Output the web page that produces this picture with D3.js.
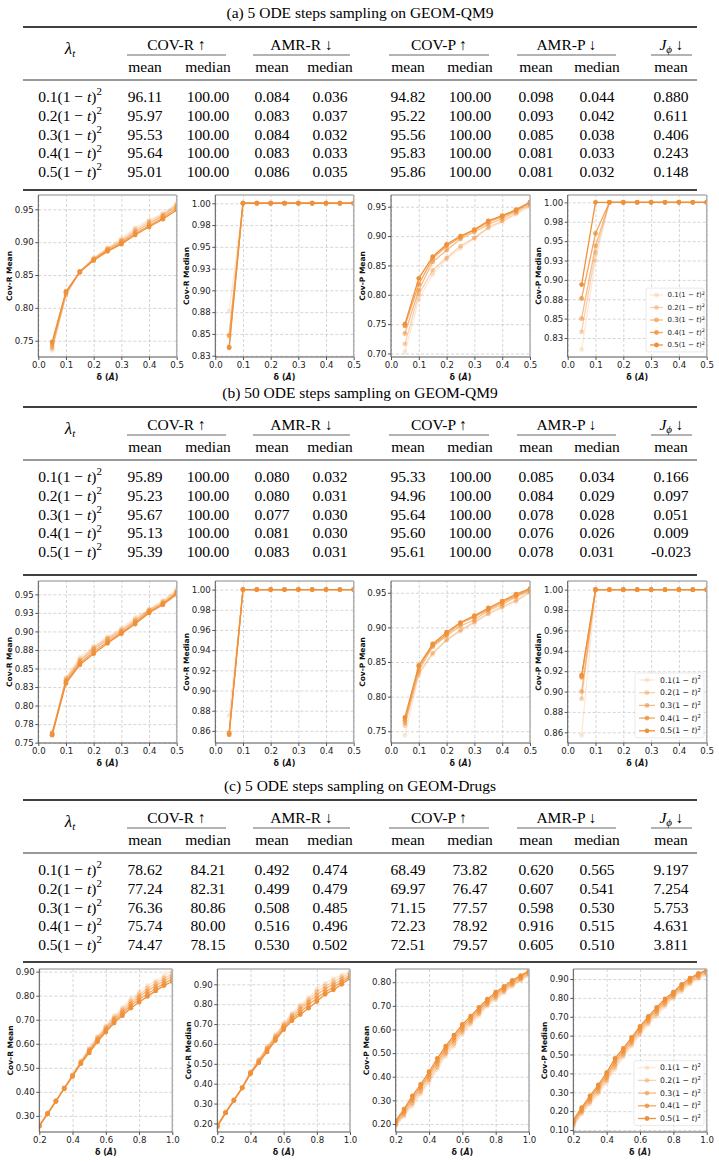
<!DOCTYPE html>
<html>
<head>
<meta charset="utf-8">
<script src="https://cdn.jsdelivr.net/npm/d3@7"></script>
<style>
  body { margin: 0; background: #fff; }
  svg { display: block; }
</style>
</head>
<body>
<svg id="fig"></svg>
<script>
// ---------- table data ----------
const sectionTitles = [
    "(a) 5 ODE steps sampling on GEOM-QM9",
    "(b) 50 ODE steps sampling on GEOM-QM9",
    "(c) 5 ODE steps sampling on GEOM-Drugs"
];
const lambdaCoefs = ["0.1", "0.2", "0.3", "0.4", "0.5"];
const metricGroups = ["COV-R ↑", "AMR-R ↓", "COV-P ↑", "AMR-P ↓"];
const subHeaders = ["mean", "median", "mean", "median", "mean", "median", "mean", "median", "mean"];

const tableA = [
    ["96.11", "100.00", "0.084", "0.036", "94.82", "100.00", "0.098", "0.044", "0.880"],
    ["95.97", "100.00", "0.083", "0.037", "95.22", "100.00", "0.093", "0.042", "0.611"],
    ["95.53", "100.00", "0.084", "0.032", "95.56", "100.00", "0.085", "0.038", "0.406"],
    ["95.64", "100.00", "0.083", "0.033", "95.83", "100.00", "0.081", "0.033", "0.243"],
    ["95.01", "100.00", "0.086", "0.035", "95.86", "100.00", "0.081", "0.032", "0.148"]
];
const tableB = [
    ["95.89", "100.00", "0.080", "0.032", "95.33", "100.00", "0.085", "0.034", "0.166"],
    ["95.23", "100.00", "0.080", "0.031", "94.96", "100.00", "0.084", "0.029", "0.097"],
    ["95.67", "100.00", "0.077", "0.030", "95.64", "100.00", "0.078", "0.028", "0.051"],
    ["95.13", "100.00", "0.081", "0.030", "95.60", "100.00", "0.076", "0.026", "0.009"],
    ["95.39", "100.00", "0.083", "0.031", "95.61", "100.00", "0.078", "0.031", "-0.023"]
];
const tableC = [
    ["78.62", "84.21", "0.492", "0.474", "68.49", "73.82", "0.620", "0.565", "9.197"],
    ["77.24", "82.31", "0.499", "0.479", "69.97", "76.47", "0.607", "0.541", "7.254"],
    ["76.36", "80.86", "0.508", "0.485", "71.15", "77.57", "0.598", "0.530", "5.753"],
    ["75.74", "80.00", "0.516", "0.496", "72.23", "78.92", "0.916", "0.515", "4.631"],
    ["74.47", "78.15", "0.530", "0.502", "72.51", "79.57", "0.605", "0.510", "3.811"]
];

// ---------- plot data ----------
const panelNames = ["Cov-R Mean", "Cov-R Median", "Cov-P Mean", "Cov-P Median"];

const xQM9 = [0.05, 0.10, 0.15, 0.20, 0.25, 0.30, 0.35, 0.40, 0.45, 0.50];
const xDrugs = [0.20, 0.25, 0.30, 0.35, 0.40, 0.45, 0.50, 0.55, 0.60, 0.65, 0.70, 0.75, 0.80, 0.85, 0.90, 0.95, 1.00];
const xTicksQM9 = [0.0, 0.1, 0.2, 0.3, 0.4, 0.5];
const xTickLabelsQM9 = ["0.0", "0.1", "0.2", "0.3", "0.4", "0.5"];
const xTicksDrugs = [0.2, 0.4, 0.6, 0.8, 1.0];
const xTickLabelsDrugs = ["0.2", "0.4", "0.6", "0.8", "1.0"];

// (a) 5 steps QM9 — one array per lambda (0.1 ... 0.5)
const a_covRMean = [
    [0.735, 0.818, 0.856, 0.876, 0.892, 0.906, 0.922, 0.934, 0.944, 0.959],
    [0.738, 0.820, 0.855, 0.875, 0.890, 0.903, 0.919, 0.931, 0.942, 0.957],
    [0.741, 0.822, 0.855, 0.874, 0.889, 0.901, 0.916, 0.928, 0.940, 0.955],
    [0.745, 0.824, 0.854, 0.873, 0.887, 0.899, 0.913, 0.925, 0.937, 0.952],
    [0.748, 0.825, 0.855, 0.872, 0.886, 0.897, 0.911, 0.923, 0.935, 0.949]
];
const a_covRMedian = [
    [0.876, 1, 1, 1, 1, 1, 1, 1, 1, 1],
    [0.848, 1, 1, 1, 1, 1, 1, 1, 1, 1],
    [0.848, 1, 1, 1, 1, 1, 1, 1, 1, 1],
    [0.835, 1, 1, 1, 1, 1, 1, 1, 1, 1],
    [0.834, 1, 1, 1, 1, 1, 1, 1, 1, 1]
];
const a_covPMean = [
    [0.703, 0.792, 0.835, 0.861, 0.879, 0.896, 0.913, 0.924, 0.937, 0.950],
    [0.716, 0.801, 0.842, 0.863, 0.883, 0.897, 0.915, 0.926, 0.939, 0.953],
    [0.734, 0.808, 0.856, 0.876, 0.895, 0.907, 0.920, 0.930, 0.942, 0.955],
    [0.747, 0.818, 0.862, 0.883, 0.898, 0.910, 0.924, 0.933, 0.944, 0.957],
    [0.750, 0.828, 0.865, 0.886, 0.900, 0.911, 0.926, 0.935, 0.945, 0.958]
];
const a_covPMedian = [
    [0.810, 0.925, 1, 1, 1, 1, 1, 1, 1, 1],
    [0.833, 0.935, 1, 1, 1, 1, 1, 1, 1, 1],
    [0.850, 0.944, 1, 1, 1, 1, 1, 1, 1, 1],
    [0.876, 0.960, 1, 1, 1, 1, 1, 1, 1, 1],
    [0.894, 1, 1, 1, 1, 1, 1, 1, 1, 1]
];

// (b) 50 steps QM9
const b_covRMean = [
    [0.760, 0.838, 0.865, 0.880, 0.893, 0.904, 0.919, 0.930, 0.942, 0.957],
    [0.761, 0.836, 0.862, 0.878, 0.891, 0.902, 0.916, 0.929, 0.940, 0.955],
    [0.762, 0.834, 0.860, 0.876, 0.889, 0.900, 0.914, 0.928, 0.938, 0.953],
    [0.763, 0.832, 0.857, 0.873, 0.886, 0.898, 0.912, 0.926, 0.937, 0.952],
    [0.760, 0.830, 0.855, 0.870, 0.884, 0.897, 0.910, 0.925, 0.936, 0.950]
];
const b_covRMedian = [
    [0.875, 1, 1, 1, 1, 1, 1, 1, 1, 1],
    [0.858, 1, 1, 1, 1, 1, 1, 1, 1, 1],
    [0.858, 1, 1, 1, 1, 1, 1, 1, 1, 1],
    [0.856, 1, 1, 1, 1, 1, 1, 1, 1, 1],
    [0.857, 1, 1, 1, 1, 1, 1, 1, 1, 1]
];
const b_covPMean = [
    [0.744, 0.831, 0.861, 0.881, 0.894, 0.906, 0.919, 0.928, 0.937, 0.950],
    [0.758, 0.834, 0.863, 0.882, 0.896, 0.908, 0.920, 0.930, 0.939, 0.951],
    [0.762, 0.838, 0.872, 0.888, 0.902, 0.911, 0.924, 0.933, 0.944, 0.953],
    [0.766, 0.843, 0.874, 0.890, 0.906, 0.915, 0.926, 0.936, 0.946, 0.955],
    [0.770, 0.845, 0.876, 0.893, 0.907, 0.917, 0.928, 0.938, 0.948, 0.956]
];
const b_covPMedian = [
    [0.857, 1, 1, 1, 1, 1, 1, 1, 1, 1],
    [0.893, 1, 1, 1, 1, 1, 1, 1, 1, 1],
    [0.900, 1, 1, 1, 1, 1, 1, 1, 1, 1],
    [0.914, 1, 1, 1, 1, 1, 1, 1, 1, 1],
    [0.916, 1, 1, 1, 1, 1, 1, 1, 1, 1]
];

// (c) 5 steps Drugs
const c_covRMean = [
    [0.262, 0.312, 0.364, 0.417, 0.472, 0.530, 0.583, 0.631, 0.675, 0.717, 0.751, 0.787, 0.815, 0.842, 0.861, 0.883, 0.903],
    [0.260, 0.311, 0.363, 0.416, 0.470, 0.526, 0.577, 0.625, 0.668, 0.709, 0.742, 0.776, 0.804, 0.830, 0.851, 0.872, 0.891],
    [0.259, 0.310, 0.362, 0.415, 0.468, 0.523, 0.572, 0.620, 0.662, 0.702, 0.734, 0.767, 0.795, 0.820, 0.841, 0.862, 0.881],
    [0.258, 0.309, 0.361, 0.414, 0.466, 0.520, 0.567, 0.614, 0.655, 0.694, 0.726, 0.758, 0.784, 0.808, 0.830, 0.851, 0.870],
    [0.257, 0.308, 0.360, 0.413, 0.464, 0.517, 0.562, 0.608, 0.649, 0.686, 0.717, 0.748, 0.773, 0.797, 0.820, 0.842, 0.859]
];
const c_covRMedian = [
    [0.192, 0.258, 0.320, 0.382, 0.460, 0.522, 0.588, 0.647, 0.705, 0.755, 0.797, 0.833, 0.877, 0.905, 0.927, 0.947, 0.967],
    [0.190, 0.256, 0.318, 0.381, 0.457, 0.518, 0.581, 0.640, 0.697, 0.745, 0.786, 0.822, 0.862, 0.890, 0.913, 0.935, 0.957],
    [0.188, 0.255, 0.317, 0.380, 0.455, 0.514, 0.575, 0.632, 0.689, 0.736, 0.775, 0.810, 0.847, 0.877, 0.900, 0.923, 0.947],
    [0.186, 0.254, 0.316, 0.379, 0.452, 0.509, 0.567, 0.625, 0.680, 0.727, 0.760, 0.797, 0.830, 0.862, 0.886, 0.912, 0.938],
    [0.184, 0.253, 0.315, 0.378, 0.450, 0.505, 0.560, 0.617, 0.672, 0.717, 0.748, 0.780, 0.813, 0.850, 0.872, 0.900, 0.930]
];
const c_covPMean = [
    [0.189, 0.231, 0.277, 0.326, 0.375, 0.431, 0.487, 0.529, 0.581, 0.621, 0.658, 0.698, 0.726, 0.754, 0.782, 0.806, 0.828],
    [0.195, 0.239, 0.287, 0.336, 0.386, 0.442, 0.497, 0.541, 0.590, 0.629, 0.667, 0.705, 0.734, 0.761, 0.788, 0.811, 0.833],
    [0.201, 0.247, 0.298, 0.347, 0.398, 0.454, 0.507, 0.553, 0.600, 0.638, 0.675, 0.712, 0.742, 0.768, 0.795, 0.816, 0.838],
    [0.208, 0.255, 0.308, 0.357, 0.410, 0.466, 0.518, 0.564, 0.611, 0.647, 0.684, 0.720, 0.750, 0.775, 0.801, 0.822, 0.843],
    [0.214, 0.263, 0.319, 0.368, 0.421, 0.478, 0.529, 0.576, 0.621, 0.656, 0.693, 0.728, 0.758, 0.782, 0.808, 0.828, 0.848]
];
const c_covPMedian = [
    [0.114, 0.184, 0.237, 0.290, 0.351, 0.421, 0.486, 0.544, 0.605, 0.658, 0.702, 0.754, 0.798, 0.833, 0.872, 0.900, 0.921],
    [0.124, 0.192, 0.248, 0.302, 0.364, 0.435, 0.497, 0.556, 0.616, 0.669, 0.714, 0.764, 0.806, 0.843, 0.880, 0.908, 0.928],
    [0.133, 0.201, 0.259, 0.314, 0.377, 0.450, 0.509, 0.567, 0.627, 0.680, 0.726, 0.775, 0.814, 0.852, 0.888, 0.916, 0.934],
    [0.143, 0.210, 0.270, 0.327, 0.390, 0.464, 0.520, 0.579, 0.638, 0.691, 0.737, 0.785, 0.822, 0.862, 0.896, 0.923, 0.941],
    [0.153, 0.219, 0.281, 0.339, 0.404, 0.479, 0.532, 0.591, 0.649, 0.702, 0.749, 0.795, 0.830, 0.872, 0.904, 0.930, 0.947]
];

// y limits and ticks per panel
const yLims = [
    [[0.7252, 0.9718], [0.8235, 1.0095], [0.694, 0.970], [0.8005, 1.0095]],
    [[0.7495, 0.968], [0.848, 1.0085], [0.733, 0.967], [0.8495, 1.0085]],
    [[0.233, 0.911], [0.157, 0.977], [0.166, 0.856], [0.0895, 0.953]]
];
const yTicks = [
    [[0.75, 0.80, 0.85, 0.90, 0.95],
     [0.825, 0.85, 0.875, 0.90, 0.925, 0.95, 0.975, 1.0],
     [0.70, 0.75, 0.80, 0.85, 0.90, 0.95],
     [0.825, 0.85, 0.875, 0.90, 0.925, 0.95, 0.975, 1.0]],
    [[0.75, 0.775, 0.80, 0.825, 0.85, 0.875, 0.90, 0.925, 0.95],
     [0.86, 0.88, 0.90, 0.92, 0.94, 0.96, 0.98, 1.0],
     [0.75, 0.80, 0.85, 0.90, 0.95],
     [0.86, 0.88, 0.90, 0.92, 0.94, 0.96, 0.98, 1.0]],
    [[0.3, 0.4, 0.5, 0.6, 0.7, 0.8, 0.9],
     [0.2, 0.3, 0.4, 0.5, 0.6, 0.7, 0.8, 0.9],
     [0.2, 0.3, 0.4, 0.5, 0.6, 0.7, 0.8],
     [0.1, 0.2, 0.3, 0.4, 0.5, 0.6, 0.7, 0.8, 0.9]]
];
const yTickLabels = [
    [["0.75", "0.80", "0.85", "0.90", "0.95"],
     ["0.83", "0.85", "0.88", "0.90", "0.93", "0.95", "0.98", "1.00"],
     ["0.70", "0.75", "0.80", "0.85", "0.90", "0.95"],
     ["0.83", "0.85", "0.88", "0.90", "0.93", "0.95", "0.98", "1.00"]],
    [["0.75", "0.78", "0.80", "0.83", "0.85", "0.88", "0.90", "0.93", "0.95"],
     ["0.86", "0.88", "0.90", "0.92", "0.94", "0.96", "0.98", "1.00"],
     ["0.75", "0.80", "0.85", "0.90", "0.95"],
     ["0.86", "0.88", "0.90", "0.92", "0.94", "0.96", "0.98", "1.00"]],
    [["0.30", "0.40", "0.50", "0.60", "0.70", "0.80", "0.90"],
     ["0.20", "0.30", "0.40", "0.50", "0.60", "0.70", "0.80", "0.90"],
     ["0.20", "0.30", "0.40", "0.50", "0.60", "0.70", "0.80"],
     ["0.10", "0.20", "0.30", "0.40", "0.50", "0.60", "0.70", "0.80", "0.90"]]
];

// ---------- layout ----------
const W = 719, H = 1162;
const serif = "'Liberation Serif', 'DejaVu Serif', serif";
const sans = "'DejaVu Sans', sans-serif";
const orange = "#f0913a";
const alphas = [0.2, 0.4, 0.6, 0.8, 1.0];
const tableFont = 15.5;

const sectionTops = [0, 380, 773];
const bottomRules = [190, 195, 189];
const colX = [145, 208, 272, 330, 408, 470, 536, 597, 671];
const groupSpans = [[127, 226], [253, 350], [389, 489], [517, 616], [651, 692]];

const boxesQM9 = [[38.3, 176.7], [215.3, 353.7], [391, 530], [567.7, 706.7]];
const boxesDrugs = [[39.3, 172.3], [217.3, 350], [395.7, 529], [573.3, 706.7]];
const rowLayouts = [
    { top: 195, bottom: 357, boxes: boxesQM9, legend: { h0: 650, h1: 663, tx: 667.5, y0: 295, dy: 12.5, fs: 7 } },
    { top: 581, bottom: 743, boxes: boxesQM9, legend: { h0: 639, h1: 655, tx: 660, y0: 680, dy: 12.7, fs: 7.7 } },
    { top: 969, bottom: 1132, boxes: boxesDrugs, legend: { h0: 638, h1: 656, tx: 660, y0: 1067.7, dy: 12.7, fs: 7.7 } }
];

const svg = d3.select("#fig").attr("width", W).attr("height", H);

function lambdaText(sel, coef, fs) {
    sel.append("tspan").text(coef + "(1 − ");
    sel.append("tspan").attr("font-style", "italic").text("t");
    sel.append("tspan").text(")");
    sel.append("tspan").attr("font-size", fs * 0.7).attr("dy", -fs * 0.42).text("2");
}

// ---------- tables ----------
function drawTable(k, rows) {
    const y0 = sectionTops[k];
    const g = svg.append("g").attr("font-family", serif).attr("font-size", tableFont).attr("fill", "#000");

    g.append("text").attr("x", 360).attr("y", y0 + 18).attr("text-anchor", "middle").text(sectionTitles[k]);

    const rule = (y, w, x0 = 23, x1 = 697) =>
        g.append("line").attr("x1", x0).attr("x2", x1).attr("y1", y).attr("y2", y)
            .attr("stroke", "#000").attr("stroke-width", w);

    rule(y0 + 27, 1.3);

    // lambda header
    const lt = g.append("text").attr("x", 70).attr("y", y0 + 54).attr("text-anchor", "middle");
    lt.append("tspan").attr("font-style", "italic").attr("font-size", 17).text("λ");
    lt.append("tspan").attr("font-style", "italic").attr("font-size", 11).attr("dy", 3).text("t");

    // group headers
    metricGroups.forEach((m, i) => {
        const s = groupSpans[i];
        g.append("text").attr("x", (s[0] + s[1]) / 2).attr("y", y0 + 50).attr("text-anchor", "middle").text(m);
        rule(y0 + 55, 0.6, s[0], s[1]);
    });
    const js = groupSpans[4];
    const jt = g.append("text").attr("x", (js[0] + js[1]) / 2).attr("y", y0 + 50).attr("text-anchor", "middle");
    jt.append("tspan").attr("font-style", "italic").text("J");
    jt.append("tspan").attr("font-style", "italic").attr("font-size", 11).attr("dy", 3).text("ϕ");
    jt.append("tspan").attr("dy", -3).text(" ↓");
    rule(y0 + 55, 0.6, js[0], js[1]);

    subHeaders.forEach((s, i) => {
        g.append("text").attr("x", colX[i]).attr("y", y0 + 72).attr("text-anchor", "middle").text(s);
    });

    rule(y0 + 80, 0.8);

    rows.forEach((r, j) => {
        const yy = y0 + 102 + j * 18.75;
        const lab = g.append("text").attr("x", 70).attr("y", yy).attr("text-anchor", "middle");
        lambdaText(lab, lambdaCoefs[j], tableFont);
        r.forEach((v, i) => {
            g.append("text").attr("x", colX[i]).attr("y", yy).attr("text-anchor", "middle").text(v);
        });
    });

    rule(y0 + bottomRules[k], 1.3);
}

// ---------- plots ----------
let clipId = 0;
function drawPanel(row, col, xs, series, xTicks, xTickLabels, xDomain) {
    const L = rowLayouts[row];
    const left = L.boxes[col][0], right = L.boxes[col][1];
    const top = L.top, bottom = L.bottom;
    const ticks = yTicks[row][col], labels = yTickLabels[row][col];

    const x = d3.scaleLinear().domain(xDomain).range([left, right]);
    const y = d3.scaleLinear().domain(yLims[row][col]).range([bottom, top]);
    const g = svg.append("g");

    // grid
    const gridStyle = s => {
        s.select(".domain").remove();
        s.selectAll("line").attr("stroke", "#c4c4c4").attr("stroke-width", 0.7).attr("stroke-dasharray", "3,2");
    };
    g.append("g").attr("transform", `translate(0,${bottom})`)
        .call(d3.axisBottom(x).tickValues(xTicks).tickSize(-(bottom - top)).tickFormat(""))
        .call(gridStyle);
    g.append("g").attr("transform", `translate(${left},0)`)
        .call(d3.axisLeft(y).tickValues(ticks).tickSize(-(right - left)).tickFormat(""))
        .call(gridStyle);

    // series
    const id = "clip" + (clipId++);
    svg.append("clipPath").attr("id", id).append("rect")
        .attr("x", left).attr("y", top).attr("width", right - left).attr("height", bottom - top);
    const plot = g.append("g").attr("clip-path", `url(#${id})`);
    const line = d3.line().x((d, i) => x(xs[i])).y(d => y(d));
    series.forEach((s, k) => {
        plot.append("path").attr("d", line(s)).attr("fill", "none")
            .attr("stroke", orange).attr("stroke-opacity", alphas[k]).attr("stroke-width", 1.3);
        plot.selectAll(null).data(s).join("circle")
            .attr("cx", (d, i) => x(xs[i])).attr("cy", d => y(d)).attr("r", 2.4)
            .attr("fill", orange).attr("fill-opacity", alphas[k]);
    });

    // frame
    const edge = (x1, y1, x2, y2, c, w) => g.append("line").attr("x1", x1).attr("y1", y1)
        .attr("x2", x2).attr("y2", y2).attr("stroke", c).attr("stroke-width", w);
    edge(left, top, right, top, "#b0b0b0", 1.5);
    edge(right, top, right, bottom, "#b0b0b0", 1.5);
    edge(left, top, left, bottom, "#555", 1);
    edge(left, bottom, right, bottom, "#555", 1);

    // axes
    const axStyle = s => {
        s.select(".domain").remove();
        s.selectAll("line").attr("stroke", "#555");
        s.selectAll("text").attr("font-family", sans).attr("font-size", 8.6).attr("fill", "#222");
    };
    g.append("g").attr("transform", `translate(0,${bottom})`)
        .call(d3.axisBottom(x).tickValues(xTicks).tickSize(3).tickPadding(1.5)
            .tickFormat(d => xTickLabels[xTicks.indexOf(d)]))
        .call(axStyle);
    g.append("g").attr("transform", `translate(${left},0)`)
        .call(d3.axisLeft(y).tickValues(ticks).tickSize(3).tickPadding(1.5)
            .tickFormat(d => labels[ticks.indexOf(d)]))
        .call(axStyle);

    // labels
    g.append("text").attr("transform", `translate(${left - 29},${(top + bottom) / 2}) rotate(-90)`)
        .attr("text-anchor", "middle").attr("dominant-baseline", "central")
        .attr("font-family", sans).attr("font-size", 7.5).attr("font-weight", "bold").attr("fill", "#111")
        .text(panelNames[col]);
    const xl = g.append("text").attr("x", (left + right) / 2).attr("y", bottom + 23)
        .attr("text-anchor", "middle").attr("font-family", sans).attr("font-size", 8)
        .attr("font-weight", "bold").attr("fill", "#111");
    xl.append("tspan").text("δ (");
    xl.append("tspan").attr("font-style", "italic").text("Å");
    xl.append("tspan").text(")");

    if (col === 3) drawLegend(L.legend);
}

function drawLegend(lg) {
    const g = svg.append("g");
    g.append("rect").attr("x", lg.h0 - 4).attr("y", lg.y0 - lg.dy * 0.55)
        .attr("width", 705 - lg.h0 + 3).attr("height", lg.dy * 5.1)
        .attr("rx", 2).attr("fill", "#fff").attr("fill-opacity", 0.85)
        .attr("stroke", "#dcdcdc").attr("stroke-width", 0.6);
    lambdaCoefs.forEach((c, k) => {
        const yy = lg.y0 + k * lg.dy;
        g.append("line").attr("x1", lg.h0).attr("x2", lg.h1).attr("y1", yy).attr("y2", yy)
            .attr("stroke", orange).attr("stroke-opacity", alphas[k]).attr("stroke-width", 1.3);
        g.append("circle").attr("cx", (lg.h0 + lg.h1) / 2).attr("cy", yy).attr("r", 2.4)
            .attr("fill", orange).attr("fill-opacity", alphas[k]);
        const t = g.append("text").attr("x", lg.tx).attr("y", yy + lg.fs * 0.35)
            .attr("font-family", sans).attr("font-size", lg.fs).attr("fill", "#222");
        lambdaText(t, c, lg.fs);
    });
}

drawTable(0, tableA);
drawTable(1, tableB);
drawTable(2, tableC);

[a_covRMean, a_covRMedian, a_covPMean, a_covPMedian].forEach((s, c) =>
    drawPanel(0, c, xQM9, s, xTicksQM9, xTickLabelsQM9, [0, 0.5]));
[b_covRMean, b_covRMedian, b_covPMean, b_covPMedian].forEach((s, c) =>
    drawPanel(1, c, xQM9, s, xTicksQM9, xTickLabelsQM9, [0, 0.5]));
[c_covRMean, c_covRMedian, c_covPMean, c_covPMedian].forEach((s, c) =>
    drawPanel(2, c, xDrugs, s, xTicksDrugs, xTickLabelsDrugs, [0.2, 1.0]));
</script>
</body>
</html>
